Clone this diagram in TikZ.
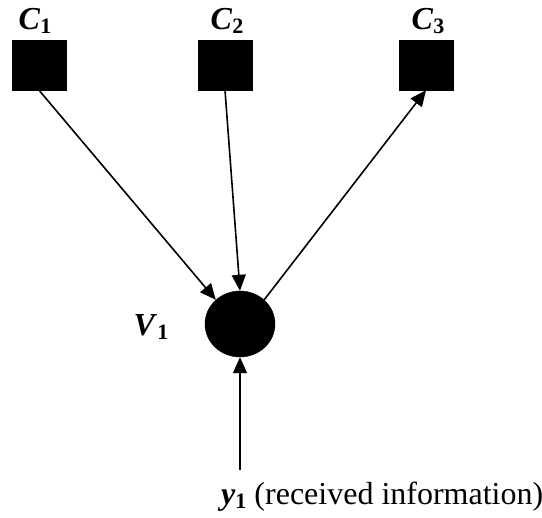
\documentclass[tikz,border=0pt]{standalone}
\usepackage{fontspec}
\setmainfont{Liberation Serif}
\usetikzlibrary{arrows.meta,shapes.geometric}
\newcommand{\lbl}[2]{\textbf{\textit{#1}}\raisebox{-0.22ex}{\fontsize{22}{24}\selectfont\textbf{#2}}}
\begin{document}
\begin{tikzpicture}[x=1pt,y=-1pt,
  check/.style={draw=black,fill=black,minimum width=54pt,minimum height=50pt,inner sep=0pt},
  var/.style={ellipse,draw=black,fill=black,minimum width=70pt,minimum height=66pt,inner sep=0pt},
  txt/.style={font=\fontsize{32}{36}\selectfont,inner sep=0pt},
  edge/.style={line width=1.6pt,-{Triangle[length=16pt,width=14pt]}}]
\useasboundingbox (0,0) rectangle (542,518);
\node[check] (C1) at (39,65) {};
\node[check] (C2) at (225,65) {};
\node[check] (C3) at (426,65) {};
\node[var] (V) at (240,324) {};
\node[txt] (L1) at (35,21) {\lbl{C}{1}};
\node[txt] (L2) at (227,21) {\lbl{C}{2}};
\node[txt] (L3) at (428,21) {\lbl{C}{3}};
\node[txt] (LV) at (151,327) {\lbl{V}{1}};
\node[txt,anchor=base west] (Ly) at (221,505) {\lbl{y}{1} (received information)};
\coordinate (Y) at (240,470);
\draw[edge] (C1.south) -- (V.135);
\draw[edge] (C2.south) -- (V.north);
\draw[edge] (V.45) -- (C3.south);
\draw[edge] (Y) -- (V.south);
\end{tikzpicture}
\end{document}
